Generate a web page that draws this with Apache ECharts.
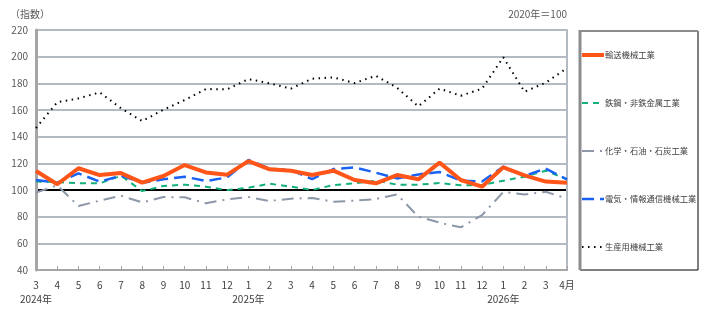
<!DOCTYPE html>
<html>
<head>
<meta charset="utf-8">
<script src="https://cdn.jsdelivr.net/npm/echarts@6/dist/echarts.min.js"></script>
<style>
  html, body { margin: 0; padding: 0; background: #fff; }
  #chart { width: 726px; height: 319px; }
</style>
</head>
<body>
<div id="chart"></div>
<script>
// months 2024/3 .. 2026/4
var months = ["3", "4", "5", "6", "7", "8", "9", "10", "11", "12",
              "1", "2", "3", "4", "5", "6", "7", "8", "9", "10", "11", "12",
              "1", "2", "3", "4月"];
var yearLabels = { 0: "2024年", 10: "2025年", 22: "2026年" };

var transport = [114.3, 104.3, 116.3, 111.2, 112.7, 105.5, 110.5, 118.7, 113.2, 111.5,
                 121.7, 115.5, 114.5, 111.2, 114.5, 107.5, 105, 111.2, 108, 120.5,
                 107.5, 102.5, 117, 111, 106.3, 105.5];
var steel = [106.3, 106, 105, 105, 110.7, 99.2, 103, 104, 102.5, 100,
             101.7, 104.7, 102.5, 100, 103.7, 105, 107, 104, 104, 105.2,
             103.5, 103.7, 107, 110, 114.5, 108];
var chemical = [98, 103.5, 88, 92, 95.7, 90.7, 94.7, 94.5, 90, 93,
                94.7, 91.7, 93.5, 94, 91.2, 92, 93.2, 96.7, 80, 75.5,
                72, 81.2, 98.5, 96.7, 98.7, 93.5];
var electric = [107.5, 105.5, 112.5, 106.3, 110.7, 105.5, 108, 110, 106.7, 109.5,
                122.5, 116, 115, 108.2, 115.7, 117, 113, 108.7, 111.7, 113.5,
                107, 106.3, 117.5, 110.7, 116, 108];
var production = [146.5, 165.8, 168.7, 173.2, 161.3, 151.7, 160.2, 167.5, 175.7, 175.5,
                  183.2, 180, 176, 183.5, 184.5, 180.2, 185.7, 176.7, 162.7, 176,
                  170.7, 176, 199.5, 173.7, 180.5, 191.5];

var names = ["輸送機械工業", "鉄鋼・非鉄金属工業", "化学・石油・石炭工業", "電気・情報通信機械工業", "生産用機械工業"];
var colors = ["#ff5519", "#13b07a", "#8c98a8", "#1a62f5", "#000000"];
var widths = [4, 2, 2, 2.5, 2];
var dashes = ["solid", [6, 5], [12, 6, 2, 6], [12, 6], [1.5, 4.5]];

var font = "'Noto Sans CJK JP', sans-serif";
var gridColor = "#b3bac2";

var chart = echarts.init(document.getElementById("chart"));

function lineSeries(i, data, z) {
    return {
        name: names[i],
        type: "line",
        data: data,
        symbol: "none",
        z: z,
        lineStyle: { color: colors[i], width: widths[i], type: dashes[i] },
        itemStyle: { color: colors[i] }
    };
}

// legend drawn by hand so the icons keep the dash patterns
var legendItems = [
    { type: "rect", shape: { x: 580, y: 31, width: 118, height: 239 }, style: { fill: "none", stroke: "#000", lineWidth: 1 } },
    { type: "line", shape: { x1: 580, y1: 30, x2: 580, y2: 270 }, style: { stroke: "#8c8c8c", lineWidth: 3 } },
    { type: "line", shape: { x1: 579, y1: 31, x2: 698, y2: 31 }, style: { stroke: "#8c8c8c", lineWidth: 2 } }
];
var legendY = [55, 103, 151, 199, 247];
for (var i = 0; i < names.length; i++) {
    legendItems.push({
        type: "line",
        shape: { x1: 582, y1: legendY[i], x2: 604, y2: legendY[i] },
        style: {
            stroke: colors[i],
            lineWidth: widths[i],
            lineDash: dashes[i] === "solid" ? null : dashes[i]
        }
    });
    legendItems.push({
        type: "text",
        x: 605,
        y: legendY[i],
        style: { text: names[i], fontSize: 8.3, fill: "#404040", fontFamily: font, verticalAlign: "middle" }
    });
}

chart.setOption({
    animation: false,
    textStyle: { fontFamily: font },
    grid: { left: 36, right: 159, top: 30, bottom: 49 },
    xAxis: {
        type: "category",
        data: months,
        boundaryGap: false,
        axisLine: { lineStyle: { color: "#a6a6a6", width: 2 } },
        axisTick: { inside: true, length: 4, interval: 0, lineStyle: { color: "#a6a6a6" } },
        axisLabel: {
            interval: 0,
            margin: 8,
            color: "#404040",
            fontSize: 10,
            lineHeight: 14,
            formatter: function (v, i) {
                return yearLabels[i] ? v + "\n" + yearLabels[i] : v;
            }
        },
        splitLine: { show: false }
    },
    yAxis: [{
        type: "value",
        min: 40,
        max: 220,
        interval: 20,
        axisLine: { show: true, lineStyle: { color: "#a6a6a6", width: 3 } },
        axisTick: { show: false },
        axisLabel: { color: "#595959", fontSize: 10, margin: 8 },
        splitLine: {
            lineStyle: {
                width: 2,
                color: [gridColor, gridColor, gridColor, "#000000", gridColor,
                        gridColor, gridColor, gridColor, gridColor, gridColor]
            }
        }
    }, {
        type: "value",
        min: 40,
        max: 220,
        interval: 20,
        position: "right",
        axisLine: { show: true, lineStyle: { color: gridColor, width: 2 } },
        axisTick: { show: false },
        axisLabel: { show: false },
        splitLine: { show: false }
    }],
    graphic: legendItems.concat([
        { type: "text", left: 10, top: 9, style: { text: "（指数）", fontSize: 10, fill: "#595959", fontFamily: font } },
        { type: "text", right: 159, top: 9, style: { text: "2020年＝100", fontSize: 10, fill: "#595959", fontFamily: font } }
    ]),
    series: [
        lineSeries(0, transport, 10),
        lineSeries(1, steel, 7),
        lineSeries(2, chemical, 6),
        lineSeries(3, electric, 8),
        lineSeries(4, production, 9)
    ]
});
</script>
</body>
</html>
